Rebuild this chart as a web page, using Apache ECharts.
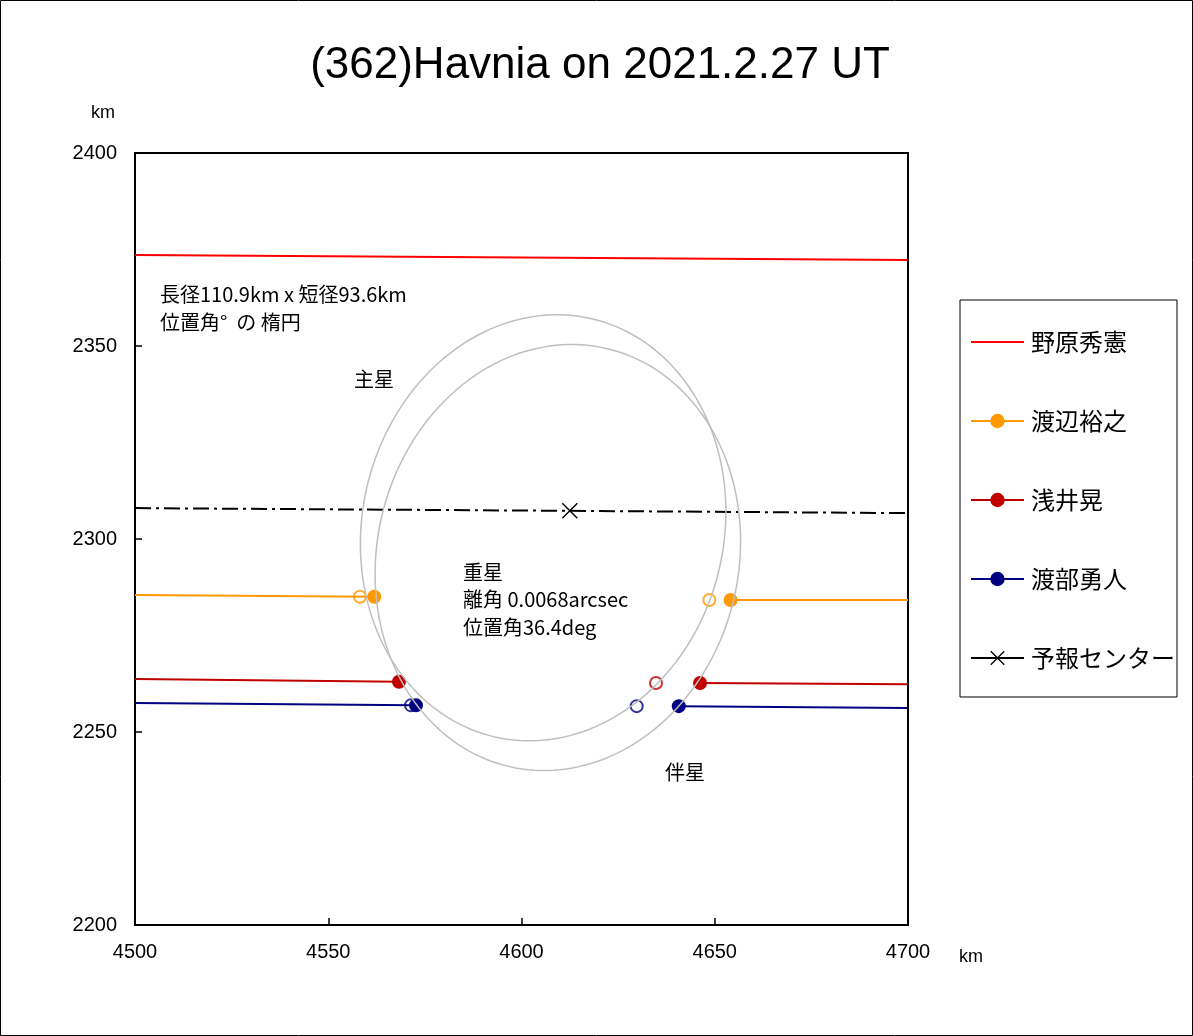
<!DOCTYPE html>
<html><head><meta charset="utf-8">
<script src="https://cdn.jsdelivr.net/npm/echarts@6/dist/echarts.min.js"></script>
<style>html,body{margin:0;padding:0;background:#fff}#c{width:1193px;height:1036px}</style>
</head><body><div id="c"></div>
<script>
const titleText = '(362)Havnia on 2021.2.27 UT';
const xMin = 4500, xMax = 4700, yMin = 2200, yMax = 2400, tickStep = 50;
const seriesNames = ['野原秀憲', '渡辺裕之', '浅井晃', '渡部勇人', '予報センター'];
const noharaLine = [[4500, 2373.6], [4700, 2372.3]];
const watanabeLeft = [[4500, 2285.5], [4561.9, 2285.05]];
const watanabeRight = [[4654.1, 2284.2], [4700, 2284.2]];
const watanabeOpen = [[4558.2, 2285.05], [4648.6, 2284.2]];
const asaiLeft = [[4500, 2263.7], [4568.3, 2263.0]];
const asaiRight = [[4646.2, 2262.7], [4700, 2262.4]];
const asaiOpen = [[4634.8, 2262.7]];
const watabeLeft = [[4500, 2257.5], [4572.7, 2256.9]];
const watabeRight = [[4640.7, 2256.7], [4700, 2256.2]];
const watabeOpen = [[4571.4, 2256.9], [4629.8, 2256.7]];
const predictLine = [[4500, 2308.0], [4612.5, 2307.3], [4700, 2306.7]];
// ellipse: centre x, centre y, semi-major, semi-minor, tilt of major axis from vertical (deg)
const ellipses = [[4605.6, 2302.9, 55.6, 46.8, 13], [4609.4, 2295.2, 55.6, 46.8, 13]];
const noteLines = ['長径110.9km x 短径93.6km', '位置角°  の 楕円'];
const labelPrimary = '主星', labelSecondary = '伴星';
const doubleNote = ['重星', '離角 0.0068arcsec', '位置角36.4deg'];

const colors = { nohara: '#FF0000', watanabe: '#FF9900', asai: '#C00000', watabe: '#000080', predict: '#000000' };
const xPath = 'path://M1,0 L8,7 L15,0 L16,1 L9,8 L16,15 L15,16 L8,9 L1,16 L0,15 L7,8 L0,1 Z';

function markEnd(pts, markIdx) {
  return pts.map((p, i) => i === markIdx ? { value: p } : { value: p, symbol: 'none' });
}
function obsLine(name, color, pts, markIdx) {
  return {
    type: 'line', name: name, data: markEnd(pts, markIdx), symbol: 'circle', symbolSize: 14,
    showSymbol: true, showAllSymbol: true, color: color,
    lineStyle: { color: color, width: 2 }, itemStyle: { color: color }, z: 3, animation: false
  };
}
function openPts(name, color, pts) {
  return {
    type: 'scatter', name: name, data: pts, symbol: 'circle', symbolSize: 12,
    itemStyle: { color: 'rgba(255,255,255,0)', borderColor: color, borderWidth: 2 }, z: 3, animation: false
  };
}

const chart = echarts.init(document.getElementById('c'));
const jp = 'Noto Sans CJK JP';
const fmt = v => String(v);
chart.setOption({
  animation: false,
  backgroundColor: '#fff',
  grid: { left: 135, top: 153, width: 773, height: 772, show: true, borderColor: '#000', borderWidth: 2, backgroundColor: 'transparent' },
  xAxis: {
    type: 'value', min: xMin, max: xMax, interval: tickStep,
    axisLine: { show: true, lineStyle: { color: '#000', width: 2 } },
    axisTick: { show: true, inside: true, length: 7, lineStyle: { color: '#000', width: 1.5 } },
    axisLabel: { color: '#000', fontSize: 20, fontFamily: 'Liberation Sans', margin: 17, formatter: fmt },
    splitLine: { show: false }
  },
  yAxis: {
    type: 'value', min: yMin, max: yMax, interval: tickStep,
    axisLine: { show: true, lineStyle: { color: '#000', width: 2 } },
    axisTick: { show: true, inside: true, length: 7, lineStyle: { color: '#000', width: 1.5 } },
    axisLabel: { color: '#000', fontSize: 20, fontFamily: 'Liberation Sans', margin: 18, formatter: fmt },
    splitLine: { show: false }
  },
  legend: {
    orient: 'vertical', left: 960, top: 300,
    data: [
      { name: seriesNames[0], itemStyle: { opacity: 0 } },
      { name: seriesNames[1] },
      { name: seriesNames[2] },
      { name: seriesNames[3] },
      { name: seriesNames[4], lineStyle: { type: 'solid' } }
    ],
    itemWidth: 53, itemHeight: 18, itemGap: 55,
    padding: [30, 2, 27, 10], borderColor: '#000', borderWidth: 1, backgroundColor: '#fff',
    textStyle: { fontFamily: jp, fontSize: 24, color: '#000', lineHeight: 18, padding: [0, 0, 0, 2] }
  },
  series: [
    { type: 'line', name: seriesNames[0], data: noharaLine, symbol: 'none', color: colors.nohara,
      lineStyle: { color: colors.nohara, width: 2 }, z: 3, animation: false },
    obsLine(seriesNames[1], colors.watanabe, watanabeLeft, 1),
    obsLine(seriesNames[1], colors.watanabe, watanabeRight, 0),
    obsLine(seriesNames[2], colors.asai, asaiLeft, 1),
    obsLine(seriesNames[2], colors.asai, asaiRight, 0),
    obsLine(seriesNames[3], colors.watabe, watabeLeft, 1),
    obsLine(seriesNames[3], colors.watabe, watabeRight, 0),
    openPts('open1', colors.watanabe, watanabeOpen),
    openPts('open2', colors.asai, asaiOpen),
    openPts('open3', colors.watabe, watabeOpen),
    { type: 'line', name: seriesNames[4], data: markEnd(predictLine, 1), symbol: xPath, symbolSize: 16,
      showSymbol: true, showAllSymbol: true, color: '#000',
      lineStyle: { color: '#000', width: 2, type: [16, 5, 3, 5] }, itemStyle: { color: '#000' }, z: 3, animation: false },
    { type: 'custom', name: 'ellipse', data: ellipses, encode: { x: 0, y: 1 }, z: 5, silent: true, animation: false,
      renderItem: function (params, api) {
        const cx = api.value(0), cy = api.value(1), a = api.value(2), b = api.value(3);
        const phi = api.value(4) * Math.PI / 180;
        const ux = Math.sin(phi), uy = Math.cos(phi), vx = Math.cos(phi), vy = -Math.sin(phi);
        const pts = [];
        for (let t = 0; t <= 360; t += 2) {
          const r = t * Math.PI / 180;
          pts.push(api.coord([cx + a * Math.cos(r) * ux + b * Math.sin(r) * vx, cy + a * Math.cos(r) * uy + b * Math.sin(r) * vy]));
        }
        return { type: 'polygon', shape: { points: pts }, style: { fill: 'none', stroke: '#BFBFBF', lineWidth: 1.5 } };
      }
    }
  ],
  graphic: [
    { type: 'rect', shape: { x: 0.5, y: 0.5, width: 1192, height: 1035 }, style: { fill: 'none', stroke: '#000', lineWidth: 1 }, z: 100 },
    { type: 'text', style: { x: 600, y: 66, text: titleText, font: '44px "Liberation Sans"', fill: '#000', textAlign: 'center', textVerticalAlign: 'middle' } },
    { type: 'text', style: { x: 103, y: 113, text: 'km', font: '18px "Liberation Sans"', fill: '#000', textAlign: 'center', textVerticalAlign: 'middle' } },
    { type: 'text', style: { x: 971, y: 957, text: 'km', font: '18px "Liberation Sans"', fill: '#000', textAlign: 'center', textVerticalAlign: 'middle' } },
    { type: 'text', style: { x: 160, y: 294, text: noteLines[0], font: '20px "' + jp + '"', fill: '#000', textVerticalAlign: 'middle' } },
    { type: 'text', style: { x: 160, y: 322, text: noteLines[1], font: '20px "' + jp + '"', fill: '#000', textVerticalAlign: 'middle' } },
    { type: 'text', style: { x: 354, y: 379, text: labelPrimary, font: '20px "' + jp + '"', fill: '#000', textVerticalAlign: 'middle' } },
    { type: 'text', style: { x: 665, y: 772, text: labelSecondary, font: '20px "' + jp + '"', fill: '#000', textVerticalAlign: 'middle' } },
    { type: 'text', style: { x: 463, y: 572, text: doubleNote[0], font: '20px "' + jp + '"', fill: '#000', textVerticalAlign: 'middle' } },
    { type: 'text', style: { x: 463, y: 599, text: doubleNote[1], font: '20px "' + jp + '"', fill: '#000', textVerticalAlign: 'middle' } },
    { type: 'text', style: { x: 463, y: 627, text: doubleNote[2], font: '20px "' + jp + '"', fill: '#000', textVerticalAlign: 'middle' } }
  ]
});
</script></body></html>
